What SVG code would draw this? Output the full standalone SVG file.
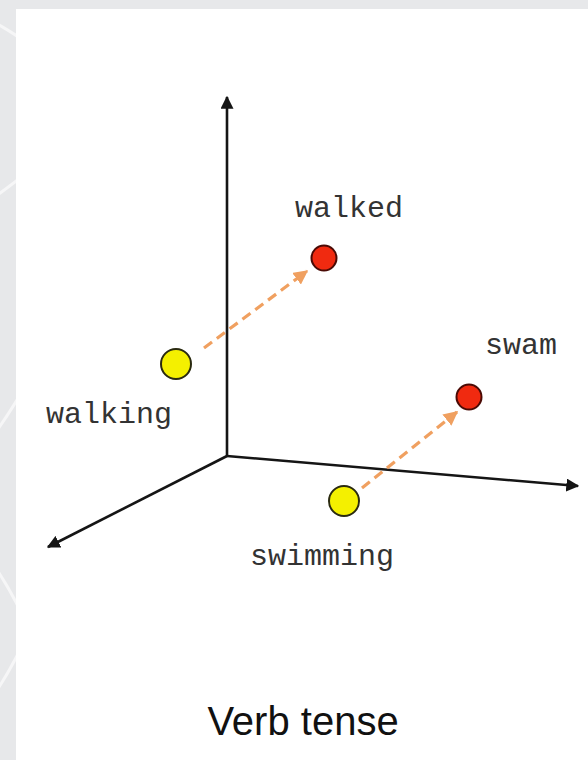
<svg xmlns="http://www.w3.org/2000/svg" width="588" height="760" viewBox="0 0 588 760">
<defs>
<style>
.axis{stroke:#151515;stroke-width:2.6;fill:none}
.dash{stroke:#f0a060;stroke-width:3.2;stroke-dasharray:10 6;fill:none}
.lbl{font-family:"Liberation Mono","Courier New",monospace;font-size:30px;fill:#333}
.title{font-family:"Liberation Sans",Arial,sans-serif;font-size:40px;fill:#111}
.yel{fill:#f4f000;stroke:#2a2a10;stroke-width:2}
.red{fill:#f02a10;stroke:#4a0a05;stroke-width:2}
</style>
<marker id="ah" viewBox="0 0 10 10" refX="9" refY="5" markerWidth="5" markerHeight="5" orient="auto" markerUnits="strokeWidth">
<path d="M0,0 L10,5 L0,10 Z" fill="#151515"/>
</marker>
<marker id="oh" viewBox="0 0 10 10" refX="9" refY="5" markerWidth="4.5" markerHeight="4.5" orient="auto" markerUnits="strokeWidth">
<path d="M0,0 L10,5 L0,10 Z" fill="#f0a060"/>
</marker>
<clipPath id="strip"><rect x="0" y="0" width="16" height="760"/></clipPath>
</defs>
<rect x="0" y="0" width="588" height="760" fill="#e7e8ea"/>
<g clip-path="url(#strip)" stroke="#f6f6f7" stroke-width="3" fill="none">
<path d="M-10,20 Q5,28 20,38"/>
<path d="M-10,200 Q5,190 20,178"/>
<path d="M-10,440 Q5,420 20,395"/>
<path d="M-10,560 Q5,580 20,610"/>
<path d="M-10,700 Q5,680 20,650"/>
</g>
<rect x="16" y="9" width="580" height="760" fill="#ffffff"/>
<g id="connectors">
<line class="axis" x1="227" y1="456" x2="227" y2="97" marker-end="url(#ah)"/>
<line class="axis" x1="227" y1="456" x2="48" y2="547" marker-end="url(#ah)"/>
<line class="axis" x1="227" y1="456" x2="578" y2="486" marker-end="url(#ah)"/>
<line class="dash" x1="204" y1="348" x2="307" y2="271" marker-end="url(#oh)"/>
<line class="dash" x1="362" y1="488" x2="457" y2="412" marker-end="url(#oh)"/>
</g>
<g id="walking"><circle class="yel" cx="176" cy="364" r="15"/><text class="lbl" x="46" y="423">walking</text></g>
<g id="walked"><circle class="red" cx="324" cy="258" r="12.5"/><text class="lbl" x="295" y="217">walked</text></g>
<g id="swimming"><circle class="yel" cx="344" cy="501" r="15"/><text class="lbl" x="250" y="565">swimming</text></g>
<g id="swam"><circle class="red" cx="469" cy="397" r="12.5"/><text class="lbl" x="485" y="354">swam</text></g>
<text class="title" x="303" y="735" text-anchor="middle">Verb tense</text>
</svg>
